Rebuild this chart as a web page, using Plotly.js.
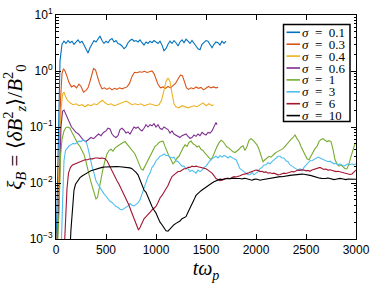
<!DOCTYPE html>
<html>
<head>
<meta charset="utf-8">
<script src="https://cdn.plot.ly/plotly-3.0.1.min.js"></script>
<style>html,body{margin:0;padding:0;background:#fff;}#chart{width:374px;height:287px;}</style>
</head>
<body>
<div id="chart"></div>
<script>
// ---------- data ----------
const sigmaLabels = ['0.1','0.3','0.4','0.6','1','3','6','10'];
const seriesColors = ['#0072BD','#D95319','#EDB120','#7E2F8E','#77AC30','#4DBEEE','#A2142F','#000000'];

const xTickVals = [0,500,1000,1500,2000,2500,3000];
const yTickVals = [0.001,0.01,0.1,1,10];
const yTickText = ['10<sup>\u22123</sup>','10<sup>\u22122</sup>','10<sup>\u22121</sup>','10<sup>0</sup>','10<sup>1</sup>'];
const yMinorVals = [0.002,0.003,0.004,0.005,0.006,0.007,0.008,0.009,0.02,0.03,0.04,0.05,0.06,0.07,0.08,0.09,0.2,0.3,0.4,0.5,0.6,0.7,0.8,0.9,2,3,4,5,6,7,8,9];

// sigma = 0.1
const t01 = [0,20,40,60,80,100,120,140,160,180,200,220,240,260,280,300,320,340,360,380,400,420,440,460,480,500,520,540,560,580,600,620,640,660,680,700,720,740,760,780,800,820,840,860,880,900,920,940,960,980,1000,1020,1040,1060,1080,1100,1120,1140,1160,1180,1200,1220,1240,1260,1280,1300,1320,1340,1360,1380,1400,1420,1440,1460,1480,1500,1520,1540,1560,1580,1600,1620,1640,1660,1680,1700];
const xi01 = [0.0005,0.02,1.5,3.0,3.4,3.1,3.5,3.2,3.4,3.0,3.3,3.6,3.2,3.4,2.9,2.4,2.1,2.6,3.0,3.5,3.3,3.8,4.2,3.5,3.1,3.4,3.2,3.6,3.8,3.3,3.5,3.1,3.0,2.8,2.5,2.7,3.2,3.5,3.7,3.4,3.5,3.3,3.6,3.2,2.9,3.3,3.1,3.4,3.2,3.5,3.3,3.1,3.4,2.9,2.3,2.5,3.0,3.4,3.1,3.5,3.2,2.8,3.3,3.6,3.2,3.7,3.4,3.1,3.5,3.2,2.8,2.5,2.4,3.0,3.3,3.5,3.4,2.9,2.6,3.0,3.3,3.2,2.9,3.4,3.1,3.4];

// sigma = 0.3
const t03 = [0,25,45,60,75,90,110,130,155,180,205,230,250,275,300,320,340,355,375,395,415,435,460,485,510,535,560,585,610,635,660,685,710,735,760,785,810,835,860,885,910,935,960,980,1000,1020,1045,1070,1095,1120,1145,1170,1195,1220,1245,1265,1285,1305,1325,1350,1375,1400,1425,1450,1475,1500,1525,1550,1575,1600,1620];
const xi03 = [0.0003,0.005,0.3,0.9,1.1,1.0,0.8,0.62,0.52,0.55,0.5,0.58,0.53,0.42,0.45,0.5,0.65,0.85,1.1,1.05,0.8,0.6,0.48,0.5,0.47,0.5,0.46,0.49,0.47,0.5,0.48,0.5,0.52,0.6,0.8,0.95,0.93,0.97,0.95,0.99,0.94,0.97,1.0,0.9,0.75,0.58,0.5,0.52,0.49,0.53,0.5,0.55,0.6,0.72,0.85,0.82,0.62,0.5,0.47,0.5,0.48,0.52,0.49,0.51,0.46,0.5,0.53,0.5,0.52,0.5,0.51];

// sigma = 0.4
const t04 = [0,30,50,65,80,95,115,140,170,200,230,260,290,320,350,380,410,440,465,490,520,550,580,610,640,670,700,730,760,790,820,850,880,910,940,970,1000,1030,1055,1080,1100,1120,1140,1160,1180,1200,1230,1260,1290,1320,1350,1380,1410,1440,1470,1500,1530,1560,1575];
const xi04 = [0.0002,0.01,0.2,0.38,0.42,0.35,0.3,0.27,0.25,0.26,0.24,0.25,0.23,0.25,0.24,0.26,0.25,0.28,0.3,0.27,0.25,0.26,0.24,0.25,0.26,0.27,0.29,0.27,0.25,0.26,0.25,0.26,0.24,0.25,0.26,0.25,0.24,0.25,0.3,0.45,0.65,0.75,0.65,0.4,0.26,0.23,0.22,0.24,0.23,0.22,0.23,0.24,0.23,0.25,0.27,0.24,0.26,0.24,0.25];

// sigma = 0.6
const t06 = [0,30,50,65,80,95,115,135,155,175,200,225,250,275,300,325,350,375,400,425,450,475,500,520,540,560,580,600,620,640,660,680,700,720,740,760,780,800,820,840,860,880,900,920,940,960,980,1000,1020,1040,1060,1080,1100,1120,1140,1160,1180,1200,1220,1240,1260,1280,1300,1320,1340,1360,1380,1400,1420,1440,1460,1480,1500,1520,1540,1560,1580,1600,1610];
const xi06 = [0.0002,0.005,0.1,0.19,0.2,0.17,0.14,0.12,0.1,0.09,0.08,0.075,0.065,0.058,0.055,0.06,0.065,0.062,0.068,0.075,0.07,0.08,0.085,0.095,0.092,0.075,0.068,0.065,0.07,0.09,0.095,0.088,0.078,0.082,0.075,0.085,0.1,0.095,0.1,0.09,0.085,0.095,0.11,0.1,0.11,0.105,0.115,0.1,0.11,0.095,0.09,0.1,0.095,0.09,0.078,0.085,0.075,0.072,0.068,0.065,0.07,0.072,0.075,0.068,0.063,0.065,0.072,0.068,0.075,0.07,0.08,0.075,0.072,0.08,0.078,0.085,0.1,0.12,0.11];

// sigma = 1
const t1 = [0,30,45,60,80,100,120,140,160,180,200,220,240,260,280,300,320,340,360,380,400,415,430,450,470,490,510,530,550,570,590,610,630,650,670,690,710,730,750,770,790,810,830,850,870,890,910,930,950,970,990,1010,1030,1050,1070,1090,1110,1130,1150,1170,1190,1210,1230,1250,1270,1290,1310,1330,1350,1370,1390,1410,1430,1450,1470,1490,1510,1530,1550,1570,1590,1610,1630,1650,1670,1690,1710,1730,1750,1770,1790,1810,1830,1850,1870,1890,1910,1930,1950,1970,1990,2010,2030,2050,2070,2090,2110,2130,2150,2170,2190,2210,2230,2250,2270,2290,2310,2330,2350,2370,2390,2410,2430,2450,2470,2490,2510,2530,2550,2570,2590,2610,2630,2650,2670,2690,2710,2730,2750,2770,2790,2810,2830,2850,2870,2890,2910,2930,2950,2970,2990,3000];
const xi1 = [0.0002,0.003,0.03,0.06,0.085,0.098,0.1,0.095,0.08,0.068,0.06,0.05,0.045,0.038,0.032,0.024,0.016,0.012,0.009,0.007,0.0052,0.0055,0.008,0.012,0.018,0.025,0.033,0.038,0.04,0.037,0.042,0.045,0.048,0.05,0.053,0.055,0.05,0.045,0.04,0.036,0.033,0.027,0.021,0.018,0.017,0.02,0.025,0.029,0.033,0.038,0.045,0.048,0.053,0.055,0.056,0.045,0.035,0.03,0.026,0.022,0.024,0.028,0.03,0.036,0.042,0.048,0.045,0.053,0.056,0.05,0.048,0.044,0.046,0.04,0.038,0.034,0.031,0.028,0.026,0.03,0.038,0.045,0.052,0.058,0.055,0.048,0.044,0.042,0.038,0.036,0.035,0.037,0.04,0.044,0.046,0.038,0.045,0.058,0.062,0.058,0.052,0.048,0.04,0.03,0.024,0.026,0.028,0.03,0.029,0.032,0.034,0.036,0.038,0.04,0.041,0.045,0.05,0.055,0.06,0.065,0.072,0.062,0.055,0.045,0.038,0.032,0.027,0.026,0.03,0.036,0.041,0.045,0.055,0.06,0.062,0.058,0.055,0.057,0.055,0.04,0.026,0.022,0.02,0.021,0.019,0.018,0.018,0.022,0.03,0.04,0.05,0.052];

// sigma = 3
const t3 = [0,50,65,80,95,110,130,150,170,190,210,230,250,270,290,305,320,335,350,365,380,400,420,440,460,480,500,520,540,560,580,600,620,640,660,680,700,720,740,760,780,800,820,840,860,880,900,920,940,960,980,1000,1020,1040,1060,1080,1100,1120,1140,1160,1180,1200,1220,1240,1260,1280,1300,1320,1340,1360,1380,1400,1420,1440,1460,1480,1500,1520,1540,1560,1580,1600,1620,1640,1660,1680,1700,1720,1740,1760,1780,1800,1820,1840,1860,1880,1900,1920,1940,1960,1980,2000,2020,2040,2060,2080,2100,2120,2140,2160,2180,2200,2220,2240,2260,2280,2300,2320,2340,2360,2380,2400,2420,2440,2460,2480,2500,2520,2540,2560,2580,2600,2620,2640,2660,2680,2700,2720,2740,2760,2780,2800,2820,2840,2860,2880,2900,2920,2940,2960,2980,3000];
const xi3 = [0.0001,0.0005,0.004,0.025,0.038,0.042,0.046,0.048,0.051,0.05,0.054,0.056,0.055,0.059,0.057,0.052,0.042,0.03,0.023,0.018,0.015,0.011,0.0095,0.0082,0.0071,0.0064,0.0058,0.0053,0.0047,0.0045,0.0041,0.0038,0.0037,0.0034,0.0033,0.0035,0.0038,0.0039,0.0043,0.004,0.0039,0.0042,0.0044,0.005,0.0064,0.008,0.0102,0.013,0.015,0.019,0.021,0.025,0.027,0.03,0.031,0.033,0.031,0.031,0.029,0.028,0.029,0.025,0.024,0.022,0.02,0.02,0.018,0.018,0.016,0.017,0.016,0.015,0.017,0.016,0.017,0.019,0.02,0.023,0.025,0.027,0.028,0.03,0.028,0.031,0.029,0.031,0.03,0.028,0.03,0.028,0.027,0.026,0.022,0.018,0.017,0.016,0.015,0.014,0.014,0.0155,0.014,0.015,0.016,0.018,0.019,0.021,0.021,0.023,0.022,0.024,0.026,0.028,0.03,0.03,0.028,0.028,0.025,0.024,0.021,0.02,0.019,0.018,0.017,0.018,0.0165,0.019,0.021,0.023,0.025,0.025,0.026,0.027,0.029,0.028,0.027,0.026,0.025,0.024,0.0245,0.023,0.022,0.0225,0.021,0.022,0.021,0.02,0.021,0.022,0.021,0.022,0.021,0.022];

// sigma = 6
const t6 = [0,80,95,110,125,145,165,190,215,240,265,290,315,340,365,390,415,440,465,490,510,530,550,570,590,610,630,650,670,690,710,730,750,770,790,810,825,840,860,880,900,920,940,960,980,1000,1020,1040,1060,1080,1100,1120,1140,1160,1180,1200,1220,1240,1260,1280,1300,1320,1340,1360,1380,1400,1420,1440,1460,1480,1500,1520,1540,1560,1580,1600,1620,1640,1660,1680,1700,1720,1740,1760,1780,1800,1820,1840,1860,1880,1900,1920,1940,1960,1980,2000,2020,2040,2060,2080,2100,2120,2140,2160,2180,2200,2220,2240,2260,2280,2300,2320,2340,2360,2380,2400,2420,2440,2460,2480,2500,2520,2540,2560,2580,2600,2620,2640,2660,2680,2700,2720,2740,2760,2780,2800,2820,2840,2860,2880,2900,2920,2940,2960,2980,3000];
const xi6 = [0.0001,0.0005,0.002,0.008,0.015,0.019,0.021,0.022,0.023,0.024,0.025,0.026,0.026,0.027,0.027,0.028,0.028,0.0275,0.028,0.027,0.025,0.021,0.018,0.015,0.013,0.011,0.0095,0.008,0.0068,0.0058,0.0048,0.004,0.0032,0.0026,0.002,0.0016,0.00145,0.0016,0.002,0.0023,0.0025,0.0027,0.003,0.0033,0.0035,0.0038,0.0045,0.0054,0.006,0.0068,0.0078,0.009,0.011,0.013,0.014,0.015,0.016,0.016,0.017,0.018,0.018,0.019,0.019,0.02,0.0195,0.02,0.0195,0.019,0.019,0.018,0.018,0.017,0.016,0.015,0.0135,0.012,0.0115,0.011,0.0112,0.0118,0.012,0.0122,0.0118,0.0125,0.013,0.0128,0.013,0.0135,0.014,0.0142,0.0148,0.015,0.0155,0.016,0.0162,0.017,0.0168,0.016,0.0162,0.0155,0.0158,0.015,0.0152,0.0148,0.015,0.0145,0.014,0.0142,0.0145,0.015,0.0148,0.0152,0.0155,0.016,0.0158,0.0165,0.017,0.0168,0.0172,0.017,0.0165,0.0168,0.0162,0.017,0.0175,0.018,0.0185,0.019,0.0182,0.0175,0.0178,0.017,0.0172,0.0168,0.0165,0.016,0.0162,0.0158,0.0155,0.015,0.0148,0.0145,0.0142,0.0145,0.0155,0.017];

// sigma = 10
const t10 = [0,130,150,165,180,195,215,240,265,290,310,330,350,370,400,430,460,490,520,550,580,610,640,670,700,720,740,760,780,800,820,840,860,880,900,920,940,960,980,1000,1020,1040,1060,1080,1100,1120,1140,1160,1180,1200,1220,1240,1260,1280,1300,1320,1340,1360,1380,1400,1420,1440,1460,1480,1500,1520,1540,1560,1580,1600,1620,1640,1660,1680,1700,1720,1740,1760,1780,1800,1820,1840,1860,1880,1900,1920,1940,1960,1980,2000,2020,2040,2060,2080,2100,2120,2140,2160,2180,2200,2220,2240,2260,2280,2300,2320,2340,2360,2380,2400,2420,2440,2460,2480,2500,2520,2540,2560,2580,2600,2620,2640,2660,2680,2700,2720,2740,2760,2780,2800,2820,2840,2860,2880,2900,2920,2940,2960,2980,3000];
const xi10 = [0.0001,0.0003,0.0015,0.004,0.0075,0.0095,0.011,0.0125,0.0135,0.0145,0.015,0.0158,0.0165,0.017,0.0178,0.0185,0.019,0.0193,0.0195,0.0196,0.0195,0.0196,0.0195,0.0194,0.0192,0.019,0.0186,0.018,0.0168,0.0155,0.014,0.0115,0.0088,0.0075,0.0068,0.0055,0.0044,0.0038,0.0033,0.0029,0.0024,0.002,0.0018,0.0016,0.0014,0.00138,0.0015,0.0017,0.0018,0.0019,0.002,0.0021,0.0023,0.0024,0.0025,0.003,0.0035,0.0042,0.005,0.006,0.0066,0.007,0.0075,0.008,0.0085,0.009,0.0095,0.01,0.0105,0.011,0.0114,0.0117,0.0115,0.0118,0.012,0.0119,0.0121,0.012,0.0122,0.012,0.0121,0.012,0.0118,0.0121,0.012,0.0118,0.0115,0.0112,0.0116,0.0118,0.0115,0.0112,0.0114,0.0116,0.0118,0.012,0.0122,0.0125,0.0124,0.0127,0.0128,0.013,0.0129,0.0132,0.0133,0.0135,0.0137,0.0138,0.014,0.0141,0.0142,0.0143,0.0144,0.0143,0.0142,0.014,0.0137,0.0134,0.013,0.0127,0.0124,0.0122,0.012,0.0119,0.0121,0.0123,0.012,0.0118,0.0115,0.0117,0.012,0.0121,0.0119,0.0117,0.0115,0.0118,0.0117,0.0116,0.0118,0.0117];

const allT = [t01,t03,t04,t06,t1,t3,t6,t10];
const allXi = [xi01,xi03,xi04,xi06,xi1,xi3,xi6,xi10];

// ---------- plot ----------
const traces = allT.map((t,i)=>({
  x:t, y:allXi[i], type:'scatter', mode:'lines',
  name:'σ = '+sigmaLabels[i],
  line:{color:seriesColors[i], width:1.1},
  hoverinfo:'skip'
}));

// custom compact legend (Plotly's own legend rows are too tall)
const L = 56, T = 15, W = 300, H = 224;
const px2x = p => (p - L) / W;
const py2y = p => (T + H - p) / H;
const shapes = [{
  type:'rect', xref:'paper', yref:'paper',
  x0:px2x(283.5), x1:px2x(350), y0:py2y(121.5), y1:py2y(24.5),
  line:{color:'black', width:1.5}, fillcolor:'white', layer:'above'
}];
const annotations = [];
sigmaLabels.forEach((s,i)=>{
  const yc = 32.3 + i*11.9;
  shapes.push({type:'line', xref:'paper', yref:'paper',
    x0:px2x(286.5), x1:px2x(300), y0:py2y(yc), y1:py2y(yc),
    line:{color:seriesColors[i], width:1.6}, layer:'above'});
  annotations.push({xref:'paper', yref:'paper', x:px2x(300.5), y:py2y(yc),
    xanchor:'left', yanchor:'middle', showarrow:false,
    height:11, borderpad:0, valign:'middle',
    text:'<i>σ</i>\u2002=\u2002'+s,
    font:{family:'Liberation Serif, serif', size:13, color:'black'}});
});

const axisCommon = {
  ticks:'inside', ticklen:5, tickwidth:1, tickcolor:'black',
  mirror:'ticks', showline:true, linecolor:'black', linewidth:1,
  showgrid:false, zeroline:false, automargin:false,
  tickfont:{family:'Liberation Sans, Arial, sans-serif', size:12, color:'black'}
};

const layout = {
  width:374, height:287,
  margin:{l:L, r:374-L-W, t:T, b:287-T-H},
  paper_bgcolor:'white', plot_bgcolor:'white',
  showlegend:false,
  xaxis:Object.assign({}, axisCommon, {
    range:[0,3000], tickvals:xTickVals,
    title:{text:'<i>tω</i><sub><i>p</i></sub>', font:{family:'Liberation Serif, serif', size:20, color:'black'}, standoff:0}
  }),
  yaxis:Object.assign({}, axisCommon, {
    type:'log', range:[-3,1], tickvals:yTickVals, ticktext:yTickText,
    minor:{tickvals:yMinorVals, ticks:'inside', ticklen:2.5, tickcolor:'black', showgrid:false},
    title:{text:'<i>ξ</i><sub><i>B</i></sub> = ⟨<i>δB</i><sup>2</sup><sub><i>z</i></sub>⟩/<i>B</i><sup>2</sup><sub>0</sub>', font:{family:'Liberation Serif, serif', size:21, color:'black'}, standoff:2}
  }),
  shapes:shapes,
  annotations:annotations
};

Plotly.newPlot('chart', traces, layout, {staticPlot:true, displayModeBar:false});
</script>
</body>
</html>
